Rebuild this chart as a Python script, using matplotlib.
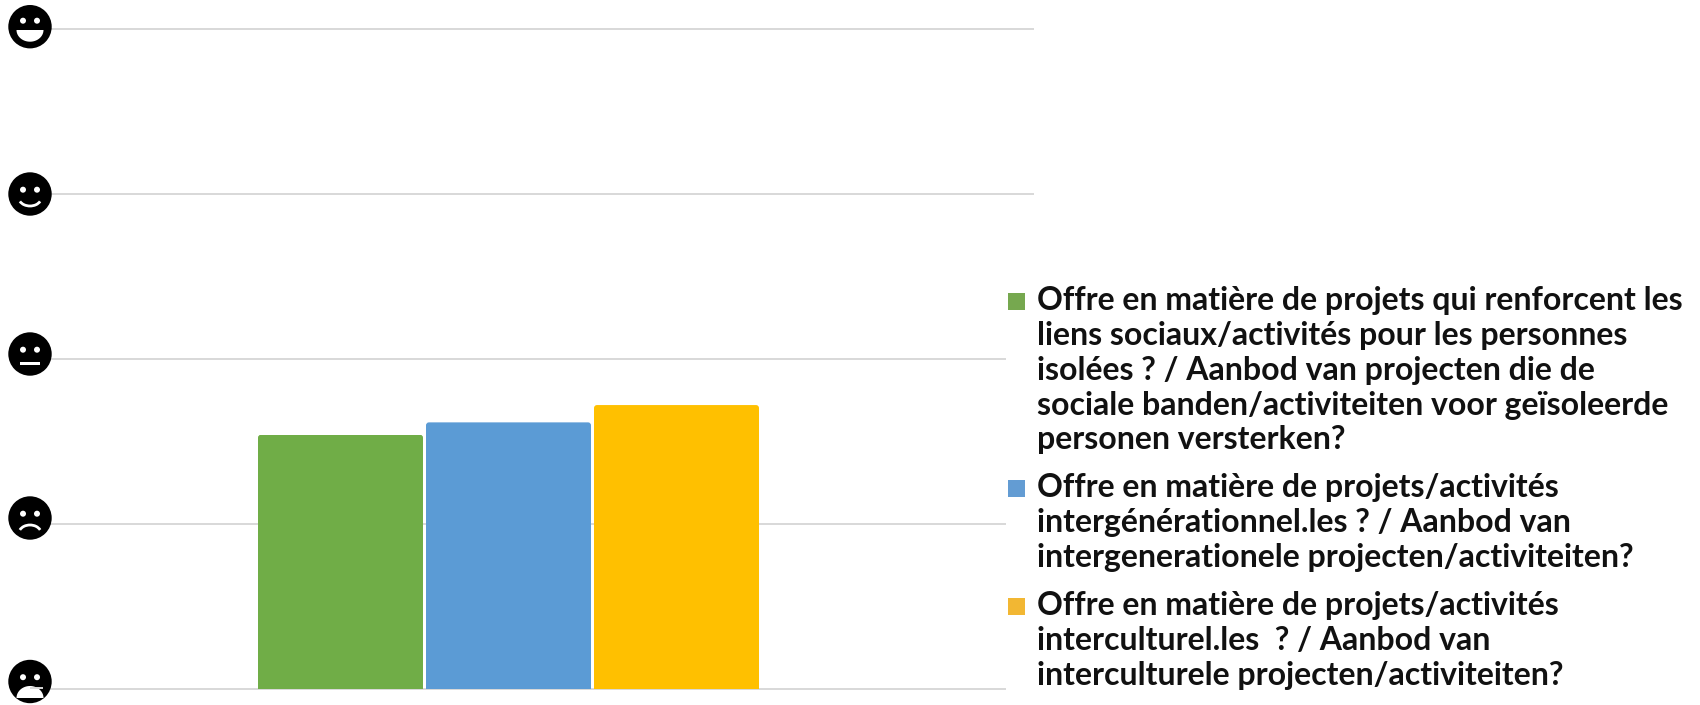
import numpy as np
import matplotlib
matplotlib.use("Agg")
import matplotlib.pyplot as plt
from matplotlib.patches import Circle, Rectangle, Polygon, Arc, FancyBboxPatch
from matplotlib.transforms import IdentityTransform

# ---- data ----
series_names = [
    ["Offre en matière de projets qui renforcent les",
     "liens sociaux/activités pour les personnes",
     "isolées ? / Aanbod van projecten die de",
     "sociale banden/activiteiten voor geïsoleerde",
     "personen versterken?"],
    ["Offre en matière de projets/activités",
     "intergénérationnel.les ? / Aanbod van",
     "intergenerationele projecten/activiteiten?"],
    ["Offre en matière de projets/activités",
     "interculturel.les  ? / Aanbod van",
     "interculturele projecten/activiteiten?"],
]
series_values = [2.54, 2.615, 2.72]
bar_colors = ["#70AD47", "#5B9BD5", "#FFC000"]
legend_colors = ["#76A84F", "#639CD3", "#F2B733"]
levels = [1, 2, 3, 4, 5]
faces = ["cry", "sad", "neutral", "smile", "laugh"]

W, H = 1700, 705
fig = plt.figure(figsize=(W / 100, H / 100), dpi=100, facecolor="white")

# main axes: x in px-like units, y the 1..5 rating scale
ax = fig.add_axes([30 / W, 1 - 688.6 / H, (1034 - 30) / W, (688.6 - 29.2) / H])
ax.set_xlim(30, 1034)
ax.set_ylim(1, 5)
ax.axis("off")
GRID = "#D8D8D8"
for lv in levels:
    xmax = 1034 if lv >= 4 else 1006
    ax.plot([30, xmax], [lv, lv], color=GRID, lw=1.4, zorder=1, clip_on=False,
            solid_capstyle="butt")

bar_centers = [340.5, 508.5, 676.5]
bars = ax.bar(bar_centers, np.array(series_values) - 1, bottom=1, width=165,
              color=bar_colors, zorder=2)
# slightly rounded top corners, as in the reference
for b in bars:
    (x0, y0), (x1, y1) = ax.transData.transform(
        [(b.get_x(), b.get_y()), (b.get_x() + b.get_width(), b.get_y() + b.get_height())])
    clip = FancyBboxPatch((x0, y0 - 10), x1 - x0, y1 - y0 + 10,
                          boxstyle="round,pad=0,rounding_size=3",
                          transform=IdentityTransform())
    b.set_clip_path(clip)

# overlay in pixel coordinates for the face icons and the legend
ov = fig.add_axes([0, 0, 1, 1])
ov.set_xlim(0, W)
ov.set_ylim(H, 0)
ov.axis("off")
ov.patch.set_alpha(0)


def draw_face(cy, kind):
    cx = 30
    ov.add_patch(Circle((cx, cy), 21.7, color="black", zorder=5, lw=0))
    ey = -6 if kind == "laugh" else -4.3
    for s in (-1, 1):
        ov.add_patch(Circle((cx + s * 7, cy + ey), 3, color="white", zorder=6, lw=0))
    if kind == "smile":
        ov.add_patch(Arc((cx, cy + 3.7), 22.4, 16.6, theta1=20, theta2=160,
                         color="white", lw=2.0, zorder=6))
    elif kind == "sad":
        ov.add_patch(Arc((cx, cy + 15.6), 22.4, 17.2, theta1=200, theta2=340,
                         color="white", lw=2.0, zorder=6))
    elif kind == "neutral":
        ov.add_patch(Rectangle((cx - 10, cy + 7.7), 20, 2.8, color="white", zorder=6, lw=0))
    elif kind == "laugh":
        t = np.linspace(0, np.pi, 40)
        xy = np.c_[cx + 13.5 * np.cos(t), cy + 3.3 + 11.7 * np.sin(t)]
        ov.add_patch(Polygon(xy, color="white", zorder=6, lw=0))
    elif kind == "cry":
        t = np.linspace(np.pi, 2 * np.pi, 40)
        xy = np.c_[cx + 13.5 * np.cos(t), cy + 16.5 + 12 * np.sin(t)]
        ov.add_patch(Polygon(xy, color="white", zorder=6, lw=0))
        # the baseline shows through the open mouth
        ov.plot([cx, cx + 13.2], [688.3, 688.3], color=GRID, lw=1.4, zorder=7,
                solid_capstyle="butt")


face_centers = [681.5, 518, 354, 194, 26.7]
for cy, kind in zip(face_centers, faces):
    draw_face(cy, kind)

# legend
text_x = 1037
square_x = 1008
baselines = [[310, 345, 380, 415, 449], [497, 532, 567], [615, 650, 685]]
square_tops = [293, 480, 598]
for lines, ys, col, top in zip(series_names, baselines, legend_colors, square_tops):
    ov.add_patch(Rectangle((square_x, top), 17, 17, color=col, zorder=4, lw=0))
    for ln, y in zip(lines, ys):
        ov.text(text_x, y, ln, family="Lato", weight="bold", fontsize=23,
                color="#111111", va="baseline", ha="left", zorder=4)

fig.savefig("out.png", dpi=100, facecolor="white")
